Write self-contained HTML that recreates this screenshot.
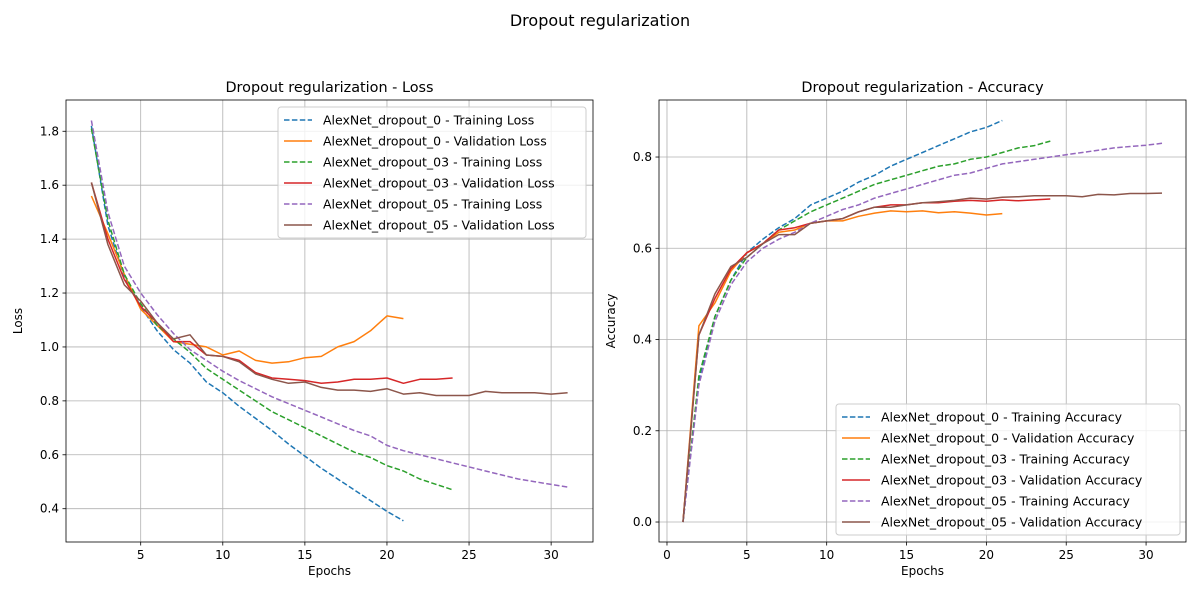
<!DOCTYPE html>
<html><head><meta charset="utf-8"><style>
body{margin:0;background:#fff;font-family:"Liberation Sans","DejaVu Sans",sans-serif}
svg text{font-family:"DejaVu Sans","Liberation Sans",sans-serif}
</style></head><body>
<svg id="chart" width="1200" height="600" viewBox="0 0 1200 600" xmlns="http://www.w3.org/2000/svg">
<rect width="1200" height="600" fill="#fff"/>
<text x="600" y="26" text-anchor="middle" font-size="16">Dropout regularization</text>
<g id="left"></g>
<g id="right"></g>
</svg>
<script>
const lossXTicks=[5,10,15,20,25,30];
const lossYTicks=[0.4,0.6,0.8,1.0,1.2,1.4,1.6,1.8];
const accXTicks=[0,5,10,15,20,25,30];
const accYTicks=[0.0,0.2,0.4,0.6,0.8];
const lossStart=2;
const accStart=1;
const d0TrainLoss=[1.82,1.45,1.26,1.15,1.06,0.99,0.94,0.87,0.83,0.78,0.735,0.69,0.64,0.595,0.55,0.51,0.47,0.43,0.39,0.355];
const d0ValLoss=[1.56,1.42,1.27,1.14,1.08,1.02,1.01,1.00,0.97,0.985,0.95,0.94,0.945,0.96,0.965,1.0,1.02,1.06,1.115,1.105];
const d03TrainLoss=[1.81,1.47,1.27,1.16,1.08,1.03,0.98,0.92,0.88,0.84,0.80,0.76,0.73,0.70,0.67,0.64,0.61,0.59,0.56,0.54,0.51,0.49,0.47];
const d03ValLoss=[1.61,1.40,1.25,1.15,1.09,1.02,1.02,0.97,0.965,0.95,0.905,0.885,0.88,0.875,0.865,0.87,0.88,0.88,0.885,0.865,0.88,0.88,0.885];
const d05TrainLoss=[1.84,1.50,1.30,1.20,1.12,1.05,0.99,0.95,0.91,0.875,0.845,0.815,0.79,0.765,0.74,0.715,0.69,0.67,0.635,0.615,0.60,0.585,0.57,0.555,0.54,0.525,0.51,0.50,0.49,0.48];
const d05ValLoss=[1.61,1.38,1.23,1.17,1.09,1.03,1.045,0.97,0.965,0.945,0.90,0.88,0.865,0.87,0.85,0.84,0.84,0.835,0.845,0.825,0.83,0.82,0.82,0.82,0.835,0.83,0.83,0.83,0.825,0.83];
const d0TrainAcc=[0,0.31,0.45,0.53,0.59,0.62,0.645,0.665,0.695,0.71,0.725,0.745,0.76,0.78,0.795,0.81,0.825,0.84,0.855,0.865,0.88];
const d0ValAcc=[0,0.43,0.48,0.55,0.59,0.61,0.635,0.64,0.655,0.66,0.66,0.67,0.677,0.682,0.68,0.682,0.678,0.68,0.677,0.673,0.676];
const d03TrainAcc=[0,0.32,0.45,0.53,0.58,0.61,0.64,0.66,0.68,0.695,0.71,0.725,0.74,0.75,0.76,0.77,0.78,0.785,0.795,0.80,0.81,0.82,0.825,0.835];
const d03ValAcc=[0,0.41,0.49,0.555,0.59,0.61,0.64,0.645,0.655,0.66,0.665,0.68,0.69,0.695,0.695,0.70,0.70,0.703,0.705,0.703,0.706,0.704,0.706,0.708];
const d05TrainAcc=[0,0.30,0.44,0.52,0.57,0.60,0.62,0.635,0.655,0.67,0.685,0.695,0.71,0.72,0.73,0.74,0.75,0.76,0.765,0.775,0.785,0.79,0.795,0.80,0.805,0.81,0.815,0.82,0.823,0.826,0.83];
const d05ValAcc=[0,0.41,0.50,0.56,0.58,0.61,0.63,0.63,0.655,0.66,0.665,0.68,0.69,0.69,0.695,0.70,0.702,0.705,0.71,0.708,0.712,0.713,0.715,0.715,0.715,0.713,0.718,0.717,0.72,0.72,0.721];
const seriesNames=["AlexNet_dropout_0","AlexNet_dropout_0","AlexNet_dropout_03","AlexNet_dropout_03","AlexNet_dropout_05","AlexNet_dropout_05"];
const colors=["#1f77b4","#ff7f0e","#2ca02c","#d62728","#9467bd","#8c564b"];
const NS="http://www.w3.org/2000/svg";
function mk(parent,tag,attrs){const e=document.createElementNS(NS,tag);for(const k in attrs)e.setAttribute(k,attrs[k]);parent.appendChild(e);return e;}
function panel(g,cfg){
  const {L,R,T,B,x0,x1,y0,y1,xt,yt,title,ylab,series,start,kind,legend}=cfg;
  const sx=v=>L+(v-x0)/(x1-x0)*(R-L);
  const sy=v=>B-(v-y0)/(y1-y0)*(B-T);
  xt.forEach(t=>{
    const l=mk(g,'line',{x1:sx(t),x2:sx(t),y1:T,y2:B,stroke:'#b0b0b0','stroke-width':0.8});
    
    
    mk(g,'line',{x1:sx(t),x2:sx(t),y1:B,y2:B+3.5,stroke:'#000','stroke-width':0.8});
    const tx=mk(g,'text',{x:sx(t),y:B+17,'text-anchor':'middle','font-size':12});
    tx.textContent=String(t);
    
    
  });
  yt.forEach(t=>{
    const l=mk(g,'line',{x1:L,x2:R,y1:sy(t),y2:sy(t),stroke:'#b0b0b0','stroke-width':0.8});
    
    
    mk(g,'line',{x1:L-3.5,x2:L,y1:sy(t),y2:sy(t),stroke:'#000','stroke-width':0.8});
    const tx=mk(g,'text',{x:L-7,y:sy(t)+4,'text-anchor':'end','font-size':12});
    tx.textContent=t.toFixed(1);
    
    
  });
  series.forEach((s,i)=>{
    const pts=s.map((v,j)=>sx(start+j).toFixed(1)+','+sy(v).toFixed(1)).join(' ');
    const a={points:pts,fill:'none',stroke:colors[i],'stroke-width':1.5,'stroke-linejoin':'round'};
    if(i%2===0)a['stroke-dasharray']='5.5,2.4';
    const p=mk(g,'polyline',a);
    
    
  });
  const fr=mk(g,'rect',{x:L,y:T,width:R-L,height:B-T,fill:'none',stroke:'#000','stroke-width':0.8});
  
  
  const tt=mk(g,'text',{x:(L+R)/2,y:T-8,'text-anchor':'middle','font-size':14.4});
  tt.textContent=title;
  
  
  const xl=mk(g,'text',{x:(L+R)/2,y:B+33,'text-anchor':'middle','font-size':12});
  xl.textContent='Epochs';
  
  
  const yl=mk(g,'text',{x:0,y:0,'text-anchor':'middle','font-size':12,transform:`translate(${L-44},${(T+B)/2}) rotate(-90)`});
  yl.textContent=ylab;
  
  
  const lg=mk(g,'g',{});
  
  
  mk(lg,'rect',{x:legend.x,y:legend.y,width:legend.w,height:131,rx:3,fill:'#fff','fill-opacity':0.8,stroke:'#ccc','stroke-width':1});
  series.forEach((s,i)=>{
    const yy=legend.y+13+i*21;
    const a={x1:legend.x+6,x2:legend.x+34,y1:yy,y2:yy,stroke:colors[i],'stroke-width':1.5};
    if(i%2===0)a['stroke-dasharray']='5.5,2.4';
    mk(lg,'line',a);
    const tx=mk(lg,'text',{x:legend.x+45,y:yy+4.5,'font-size':12.5});
    tx.textContent=seriesNames[i]+' - '+(i%2?'Validation ':'Training ')+kind;
    
    
  });
}
panel(document.getElementById('left'),{L:66,R:593,T:100,B:542,x0:0.45,x1:32.55,y0:0.2765,y1:1.916,xt:lossXTicks,yt:lossYTicks,title:'Dropout regularization - Loss',ylab:'Loss',series:[d0TrainLoss,d0ValLoss,d03TrainLoss,d03ValLoss,d05TrainLoss,d05ValLoss],start:lossStart,kind:'Loss',legend:{x:278,y:107,w:308}});
panel(document.getElementById('right'),{L:659,R:1186,T:100,B:542,x0:-0.5,x1:32.5,y0:-0.0438,y1:0.925,xt:accXTicks,yt:accYTicks,title:'Dropout regularization - Accuracy',ylab:'Accuracy',series:[d0TrainAcc,d0ValAcc,d03TrainAcc,d03ValAcc,d05TrainAcc,d05ValAcc],start:accStart,kind:'Accuracy',legend:{x:836,y:404,w:344}});
</script>
</body></html>
